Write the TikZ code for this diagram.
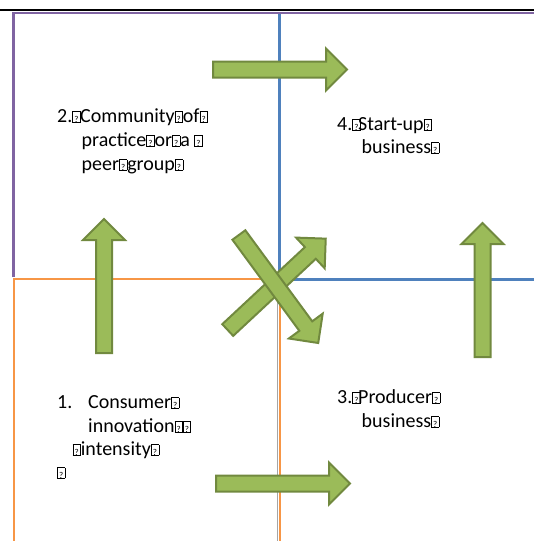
\documentclass[tikz,border=0pt]{standalone}
\usepackage{fontspec}
\setmainfont{Carlito}
\usetikzlibrary{shapes.arrows}
\definecolor{ofpurple}{HTML}{8064A2}
\definecolor{ofblue}{HTML}{4F81BD}
\definecolor{oforange}{HTML}{F79646}
\definecolor{ofgray}{HTML}{A5A5A5}
\definecolor{ofgreen}{HTML}{9BBB59}
\definecolor{ofgreendark}{HTML}{71893F}
% box that stands for a glyph the font did not have
\newcommand{\mg}{{\setlength{\fboxsep}{0pt}\setlength{\fboxrule}{0.6pt}%
  \fbox{\makebox[7pt]{\rule{0pt}{10pt}\fontsize{9}{9}\selectfont ?}}}}
\begin{document}
\begin{tikzpicture}[x=1pt,y=-1pt,
    txt/.style={anchor=base west,inner sep=0pt,font=\fontsize{20}{24}\selectfont},
    bigarrow/.style={single arrow,draw=ofgreendark,fill=ofgreen,line width=2pt,
      minimum height=134pt,single arrow head extend=13pt,
      inner sep=7pt,anchor=tail}]
   \useasboundingbox (0,0) rectangle (534,541);
   % quadrant borders
   \draw[black,line width=2pt] (0,10) -- (534,10);
   \draw[ofblue,line width=2.5pt] (279.5,14) -- (279.5,279.5) -- (534,279.5);
   \draw[ofpurple,line width=2.5pt] (13.3,277) -- (13.3,13) -- (534,13);
   \draw[ofgray,line width=1.5pt] (277.3,281) -- (277.3,541);
   \draw[oforange,line width=2pt] (13.8,541) -- (13.8,279) -- (280.2,279) -- (280.2,541);
   % texts
   \node[txt] (tl1) at (57,122) {\makebox[23pt][l]{2.\mg}Community\mg of\mg};
   \node[txt] (tl2) at (81.5,146) {practice\mg or\mg a \mg};
   \node[txt] (tl3) at (81.5,170) {peer\mg group\mg};
   \node[txt] (tr1) at (337,130) {\makebox[21pt][l]{4.\mg}Start-up\mg};
   \node[txt] (tr2) at (361.5,153) {business\mg};
   \node[txt] (bl1) at (57,408) {\makebox[31pt][l]{1.}Consumer\mg};
   \node[txt] (bl2) at (88,432) {innovation\mg\mg};
   \node[txt] (bl3) at (72.5,455) {\mg intensity\mg};
   \node[txt] (bl4) at (57,478) {\mg};
   \node[txt] (br1) at (337,403) {\makebox[21pt][l]{3.\mg}Producer\mg};
   \node[txt] (br2) at (361.5,427) {business\mg};
   % arrows (placed by their tails)
   \node[bigarrow] (arrtop) at (212,69.5) {};
   \node[bigarrow] (arrbottom) at (215,483.5) {};
   \node[bigarrow,rotate=90] (arrleft) at (104,354) {};
   \node[bigarrow,rotate=90] (arrright) at (482.5,358) {};
   \node[bigarrow,rotate=43] (arrdiagup) at (227,330.7) {};
   \node[bigarrow,rotate=-53.7] (arrdiagdown) at (238.3,234.2) {};
\end{tikzpicture}
\end{document}
